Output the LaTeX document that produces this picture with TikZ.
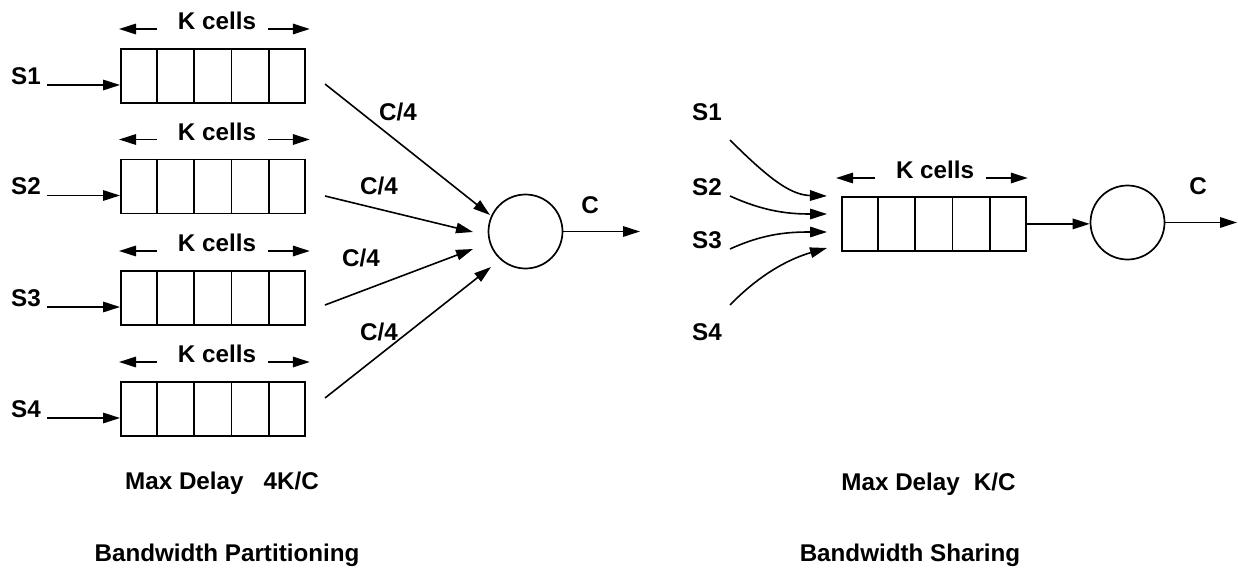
\documentclass[tikz,border=0pt]{standalone}
\usepackage{fontspec}
\setmainfont{Liberation Sans}
\usetikzlibrary{arrows.meta,calc}
\begin{document}
\begin{tikzpicture}[x=1pt,y=-1pt,
  lbl/.style={font=\fontsize{24.2}{28}\selectfont\bfseries, inner sep=0pt},
  queue/.style={draw, line width=1.8pt, minimum width=184pt, minimum height=54pt,
                inner sep=0pt, anchor=north west},
  cell/.style={line width=1.8pt},
  server/.style={draw, circle, line width=1.7pt, minimum size=74pt, inner sep=0pt},
  flow/.style={line width=1.6pt, -{Triangle[length=17pt,width=10.5pt]}},
]
\useasboundingbox (0,0) rectangle (1238,567);

% ---------- Bandwidth partitioning: four separate queues ----------
\foreach \i/\t in {1/48, 2/158.5, 3/270, 4/381} {
  \node[queue] (q\i) at (120,\t) {};
  \foreach \k in {1,...,4}
    \draw[cell] ($(q\i.north west)!\k/5!(q\i.north east)$) --
                ($(q\i.south west)!\k/5!(q\i.south east)$);
  % size marker
  \node[lbl] (k\i) at (217,\t-27) {K cells};
  \coordinate (kl\i) at (157,\t-19);
  \coordinate (kr\i) at (268,\t-19);
  \draw[flow] (kl\i) -- ([xshift=-1pt]q\i.west |- kl\i);
  \draw[flow] (kr\i) -- ([xshift=4pt]q\i.east |- kr\i);
  % source
  \node[lbl] (s\i) at (26,\t+28) {S\i};
  \coordinate (sa\i) at (47,\t+37);
  \draw[flow] (sa\i) -- (q\i.west |- sa\i);
}

\node[server] (srvL) at (525.5,231.5) {};

\coordinate (f1) at (325,84);  \coordinate (e1) at (490,215);
\coordinate (f2) at (325,196); \coordinate (e2) at (473,232);
\coordinate (f3) at (325,305); \coordinate (e3) at (473,249);
\coordinate (f4) at (325,398); \coordinate (e4) at (491,267);
\foreach \i in {1,...,4} \draw[flow] (f\i) -- (e\i);

\node[lbl] (c1) at (398,112) {C/4};
\node[lbl] (c2) at (379,186) {C/4};
\node[lbl] (c3) at (361,258) {C/4};
\node[lbl] (c4) at (379,332) {C/4};

\coordinate (outL) at (640,231.5);
\draw[flow] (srvL.east) -- (outL);
\node[lbl] (cL) at (590,205) {C};

\node[lbl, anchor=base] (mdL) at (222,489) {Max Delay\hspace{20pt}4K/C};
\node[lbl, anchor=base] (tL) at (227,561) {Bandwidth Partitioning};

% ---------- Bandwidth sharing: one common queue ----------
\node[queue] (qR) at (841,196) {};
\foreach \k in {1,...,4}
  \draw[cell] ($(qR.north west)!\k/5!(qR.north east)$) --
              ($(qR.south west)!\k/5!(qR.south east)$);
\node[lbl] (kR) at (935,170) {K cells};
\coordinate (klR) at (875,178);
\coordinate (krR) at (986,178);
\draw[flow] (klR) -- ([xshift=-5pt]qR.west |- klR);
\draw[flow] (krR) -- ([xshift=1pt]qR.east |- krR);

\node[lbl] (r1) at (707,112) {S1};
\node[lbl] (r2) at (707,187) {S2};
\node[lbl] (r3) at (707,240) {S3};
\node[lbl] (r4) at (707,332) {S4};

\coordinate (g1) at (730,140); \coordinate (h1) at (827,196);
\coordinate (g2) at (730,196); \coordinate (h2) at (827,214);
\coordinate (g3) at (730,249); \coordinate (h3) at (827,232);
\coordinate (g4) at (730,305); \coordinate (h4) at (827,248);
\draw[flow] (g1) .. controls (772,182) and (792,195) .. (h1);
\draw[flow] (g2) .. controls (765,212) and (790,214) .. (h2);
\draw[flow] (g3) .. controls (765,233) and (790,232) .. (h3);
\draw[flow] (g4) .. controls (762,272) and (792,258) .. (h4);

\node[server] (srvR) at (1127.5,222.5) {};
\draw[flow] (qR.east) -- (srvR.west |- qR.east);
\coordinate (outR) at (1237,222.5);
\draw[flow] (srvR.east) -- (outR);
\node[lbl] (cR) at (1198,186) {C};

\node[lbl, anchor=base] (mdR) at (928.5,490) {Max Delay\hspace{14pt}K/C};
\node[lbl, anchor=base] (tR) at (910,561) {Bandwidth Sharing};
\end{tikzpicture}
\end{document}
